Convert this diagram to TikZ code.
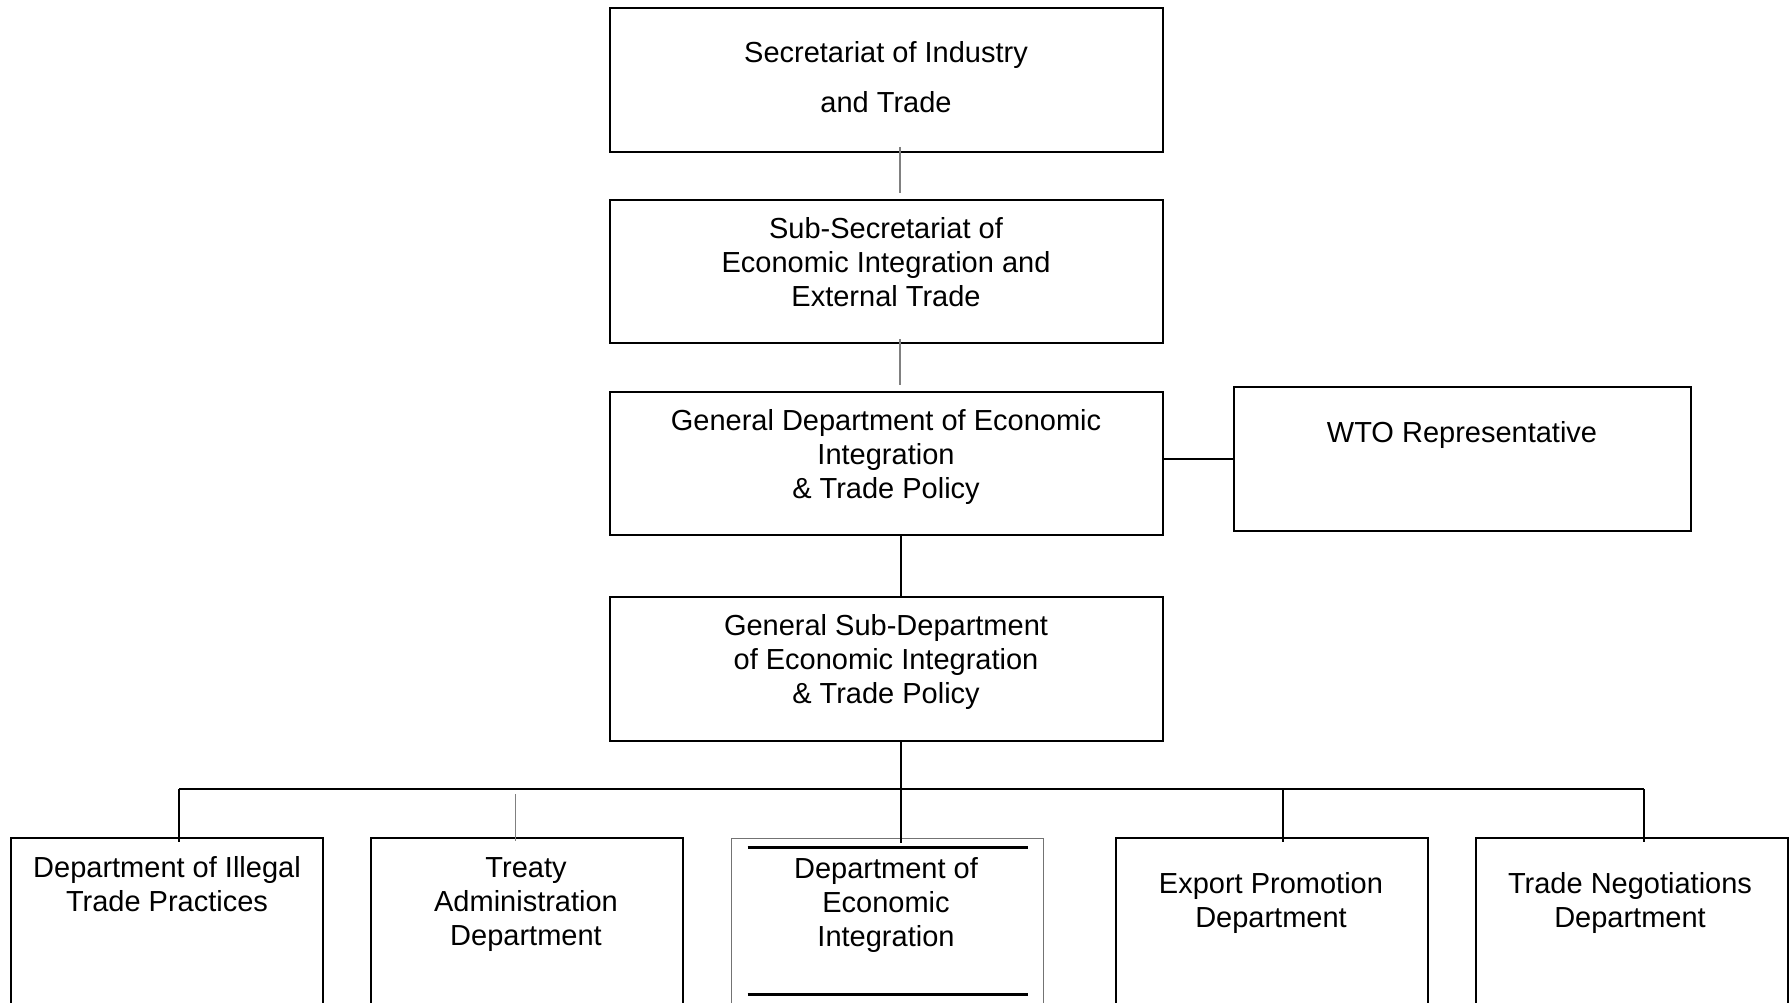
\documentclass[tikz,border=0pt]{standalone}
\usepackage{fontspec}
\setmainfont{Liberation Sans}
\usetikzlibrary{calc}
\tikzset{
  box/.style={draw=black, line width=2pt, inner sep=0pt, rectangle},
  topbox/.style={box, minimum width=553pt, minimum height=144pt},
  lowbox/.style={box, minimum width=312pt, minimum height=222pt},
  thinconn/.style={draw=black!50, line width=1.3pt},
  conn/.style={draw=black, line width=2pt},
  lbl/.style={align=center, inner sep=0pt, font=\fontsize{29}{34}\selectfont},
}
\begin{document}
\begin{tikzpicture}[x=1pt, y=-1pt]
\clip (0,0) rectangle (1790,1003);
\fill[white] (0,0) rectangle (1790,1003);
% top boxes
\node[topbox] (b1) at (886.5,80) {};
\node[topbox, minimum height=143pt] (b2) at (886.5,271.5) {};
\node[topbox, minimum height=143pt] (b3) at (886.5,463.5) {};
\node[topbox] (b4) at (886.5,669) {};
\node[box, minimum width=457pt, minimum height=144pt] (wto) at (1462.5,459) {};
% labels
\node[lbl, font=\fontsize{29}{50}\selectfont] (t1) at (886,77) {Secretariat of Industry\\and Trade};
\node[lbl] (t2) at (886,262) {Sub-Secretariat of\\Economic Integration and\\External Trade};
\node[lbl] (t3) at (886,456.5) {General Department of Economic\\Integration\\\& Trade Policy};
\node[lbl] (tw) at (1462,434.5) {WTO Representative};
\node[lbl] (t4) at (886,662) {General Sub-Department\\of Economic Integration\\\& Trade Policy};
% bottom boxes
\node[lowbox] (dA) at (167,949) {};
\node[lowbox] (dB) at (527,949) {};
\node[lowbox, draw=black!55, line width=1pt] (dC) at (887,949) {};
\node[lowbox] (dD) at (1272,949) {};
\node[lowbox] (dE) at (1632,949) {};
\draw[line width=2.5pt] ($(dC.north west)+(17,10)$) -- ($(dC.north east)+(-16,10)$);
\draw[line width=2.5pt] ($(dC.north west)+(17,157)$) -- ($(dC.north east)+(-16,157)$);
\node[lbl] (lA) at (167,884) {Department of Illegal\\Trade Practices};
\node[lbl] (lB) at (526,904.5) {Treaty\\Administration\\Department};
\node[lbl] (lC) at (886,905.5) {Department of\\Economic\\Integration};
\node[lbl] (lD) at (1271,902.5) {Export Promotion\\Department};
\node[lbl] (lE) at (1630,902.5) {Trade Negotiations\\Department};
% connectors
\draw[thinconn] ([xshift=13.5pt,yshift=6pt]b1.south) -- ([xshift=13.5pt,yshift=6pt]b2.north);
\draw[thinconn] ([xshift=13.5pt,yshift=5pt]b2.south) -- ([xshift=13.5pt,yshift=6pt]b3.north);
\draw[conn] (wto.west -| b3.east) -- (wto.west);
\draw[conn] ([xshift=14pt]b3.south) -- ([xshift=14pt]b4.north);
\coordinate (busL) at (179,789);
\coordinate (busR) at (1644,789);
\coordinate (busD) at (1283,789);
\coordinate (tTop) at (515.5,794);
\draw[conn] ([xshift=14pt]b4.south) -- ($([xshift=14pt]b4.south |- dC.north)+(0,5)$);
\draw[conn] (busL) -- (busR);
\draw[conn] (busL) -- ($(busL |- dA.north)+(0,5)$);
\draw[conn] (busD) -- ($(busD |- dD.north)+(0,5)$);
\draw[conn] (busR) -- ($(busR |- dE.north)+(0,5)$);
\draw[thinconn] (tTop) -- ($(tTop |- dB.north)+(0,4)$);
\end{tikzpicture}
\end{document}
